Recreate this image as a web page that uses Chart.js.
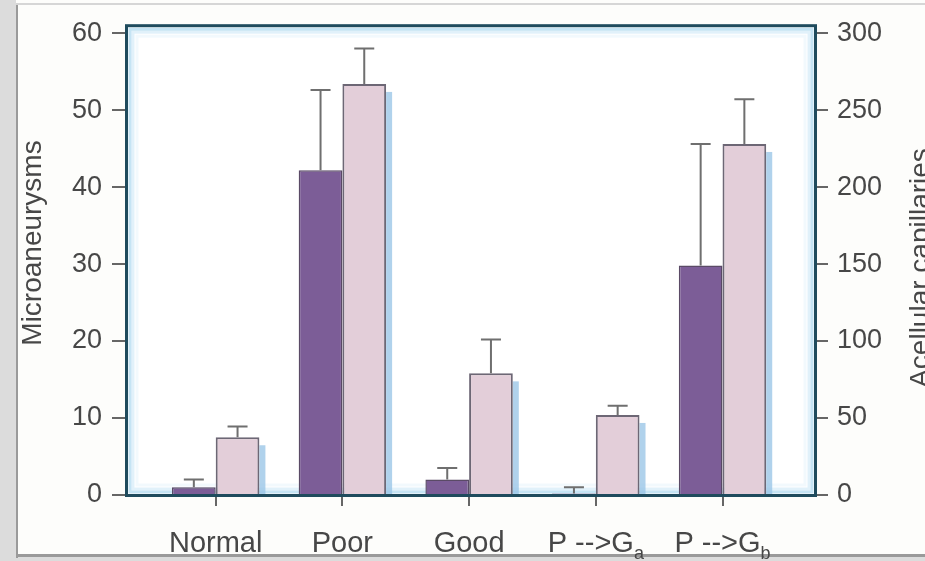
<!DOCTYPE html>
<html>
<head>
<meta charset="utf-8">
<script src="https://cdn.jsdelivr.net/npm/chart.js"></script>
<style>
  html, body { margin: 0; padding: 0; background: #fdfdfb; }
  #wrap { position: relative; width: 925px; height: 561px; overflow: hidden; }
  #frame { position: absolute; left: 0; top: 0; width: 925px; height: 561px; }
  canvas { position: absolute; left: 0; top: 0; }
</style>
</head>
<body>
<div id="wrap">
  <div id="frame"></div>
  <canvas id="chart" width="925" height="561"></canvas>
</div>
<script>
// groups along the x axis
const categories = ['Normal', 'Poor', 'Good', 'P -->G', 'P -->G'];
const subscripts = ['', '', '', 'a', 'b'];

// left axis: microaneurysms (dark bars), mean and upper error
const microMean = [1.0, 42.2, 2.0, 0.2, 29.8];
const microErr = [2.0, 52.6, 3.5, 1.0, 45.6];

// right axis: acellular capillaries (light bars), mean and upper error
const acellMean = [37.5, 267, 79, 52, 228];
const acellErr = [44.5, 290, 101, 58, 257];

const leftTicks = [0, 10, 20, 30, 40, 50, 60];
const rightTicks = [0, 50, 100, 150, 200, 250, 300];

const leftTitle = 'Microaneurysms';
const rightTitle = 'Acellular capillaries';

const FONT = '"Liberation Sans", Arial, Helvetica, sans-serif';
const TEXT = '#474747';

function pts(arr) {
  return arr.map((v, i) => ({ x: i, y: v }));
}

// page frame around the figure
const frameCanvas = document.createElement('canvas');
frameCanvas.width = 925; frameCanvas.height = 561;
document.getElementById('frame').appendChild(frameCanvas);
(function drawFrame() {
  const c = frameCanvas.getContext('2d');
  c.fillStyle = '#dcdcdc';
  c.fillRect(0, 0, 16, 561);
  c.fillRect(0, 557, 925, 4);
  c.fillStyle = '#9a9a9a';
  c.fillRect(16, 4, 2, 554);
  c.fillRect(16, 554, 909, 3);
  c.fillStyle = '#d6d6d6';
  c.fillRect(16, 3, 909, 2);
})();

const decor = {
  id: 'decor',
  beforeDatasetsDraw(chart) {
    const { ctx, chartArea: a } = chart;
    ctx.save();
    ctx.fillStyle = '#ffffff';
    ctx.fillRect(a.left, a.top, a.right - a.left, a.bottom - a.top);
    // soft blue glow inside the frame
    const glow = [['rgba(150,205,235,0.55)', 3], ['rgba(170,215,240,0.35)', 6], ['rgba(190,225,245,0.2)', 10]];
    for (const [col, d] of glow) {
      ctx.strokeStyle = col;
      ctx.lineWidth = 3;
      ctx.strokeRect(a.left + d, a.top + d, a.right - a.left - 2 * d, a.bottom - a.top - 2 * d);
    }
    ctx.restore();
  },
  beforeDatasetDraw(chart, args) {
    if (args.index !== 1) return;
    // light blue drop shadow to the right of the light bars
    const ctx = chart.ctx;
    ctx.save();
    ctx.fillStyle = 'rgba(150,195,230,0.75)';
    for (const bar of chart.getDatasetMeta(1).data) {
      const right = bar.x + bar.width / 2;
      ctx.fillRect(right, bar.y + 8, 6, bar.base - bar.y - 8);
    }
    ctx.restore();
  },
  afterDatasetsDraw(chart) {
    const { ctx, chartArea: a, scales } = chart;
    ctx.save();
    // error bars (upper only)
    ctx.strokeStyle = '#6f6f6f';
    ctx.lineWidth = 2;
    const sets = [[0, microErr, scales.y], [1, acellErr, scales.y2]];
    for (const [di, errs, sc] of sets) {
      const meta = chart.getDatasetMeta(di);
      meta.data.forEach((bar, i) => {
        const yTop = sc.getPixelForValue(errs[i]);
        ctx.beginPath();
        ctx.moveTo(bar.x, bar.y);
        ctx.lineTo(bar.x, yTop);
        ctx.moveTo(bar.x - 10, yTop);
        ctx.lineTo(bar.x + 10, yTop);
        ctx.stroke();
      });
    }
    // plot frame
    ctx.strokeStyle = '#1f4b5d';
    ctx.lineWidth = 3;
    ctx.strokeRect(a.left - 0.5, a.top - 0.5, a.right - a.left + 1, a.bottom - a.top + 1);

    // category labels with subscripts
    ctx.fillStyle = TEXT;
    ctx.textBaseline = 'alphabetic';
    categories.forEach((lab, i) => {
      const x = scales.x.getPixelForValue(i);
      ctx.font = '29px ' + FONT;
      const w1 = ctx.measureText(lab).width;
      ctx.font = '18px ' + FONT;
      const w2 = subscripts[i] ? ctx.measureText(subscripts[i]).width : 0;
      const x0 = x - (w1 + w2) / 2;
      ctx.font = '29px ' + FONT;
      ctx.textAlign = 'left';
      ctx.fillText(lab, x0, 552);
      if (subscripts[i]) {
        ctx.font = '18px ' + FONT;
        ctx.fillText(subscripts[i], x0 + w1, 559);
      }
    });

    // axis titles, both reading bottom to top
    ctx.font = '28px ' + FONT;
    ctx.textAlign = 'center';
    ctx.textBaseline = 'middle';
    ctx.save();
    ctx.translate(33, 243);
    ctx.rotate(-Math.PI / 2);
    ctx.fillText(leftTitle, 0, 0);
    ctx.restore();
    ctx.save();
    ctx.translate(921, 268);
    ctx.rotate(-Math.PI / 2);
    ctx.fillText(rightTitle, 0, 0);
    ctx.restore();
    ctx.restore();
  }
};

const tickFont = { family: FONT, size: 27 };

new Chart(document.getElementById('chart').getContext('2d'), {
  type: 'bar',
  data: {
    datasets: [
      {
        label: leftTitle,
        data: pts(microMean),
        yAxisID: 'y',
        backgroundColor: '#7c5d97',
        borderColor: '#5a4a66',
        borderWidth: 1.5,
        categoryPercentage: 0.69,
        barPercentage: 1,
      },
      {
        label: rightTitle,
        data: pts(acellMean),
        yAxisID: 'y2',
        backgroundColor: '#e3ced9',
        borderColor: '#6d6775',
        borderWidth: 2,
        categoryPercentage: 0.69,
        barPercentage: 1,
      },
    ],
  },
  options: {
    responsive: false,
    animation: false,
    layout: { padding: { left: 0, right: 0, top: 15, bottom: 0 } },
    plugins: { legend: { display: false }, tooltip: { enabled: false } },
    scales: {
      x: {
        type: 'linear',
        offset: false,
        min: -0.7,
        max: 4.73,
        afterBuildTicks: (s) => { s.ticks = categories.map((_, i) => ({ value: i })); },
        afterFit: (s) => { s.height = 66; },
        ticks: { display: false },
        grid: { offset: false, drawOnChartArea: false, drawTicks: true, tickLength: 11, color: '#666', lineWidth: 2 },
        border: { display: false },
      },
      y: {
        position: 'left',
        min: 0,
        max: 60.9,
        afterBuildTicks: (s) => { s.ticks = leftTicks.map((v) => ({ value: v })); },
        afterFit: (s) => { s.width = 127; },
        ticks: { font: tickFont, color: TEXT, padding: 10 },
        grid: { drawOnChartArea: false, tickLength: 15, color: '#666', lineWidth: 2 },
        border: { display: false },
      },
      y2: {
        position: 'right',
        min: 0,
        max: 304.5,
        afterBuildTicks: (s) => { s.ticks = rightTicks.map((v) => ({ value: v })); },
        afterFit: (s) => { s.width = 110; },
        ticks: { font: tickFont, color: TEXT, padding: 9 },
        grid: { drawOnChartArea: false, tickLength: 13, color: '#666', lineWidth: 2 },
        border: { display: false },
      },
    },
  },
  plugins: [decor],
});
</script>
</body>
</html>
